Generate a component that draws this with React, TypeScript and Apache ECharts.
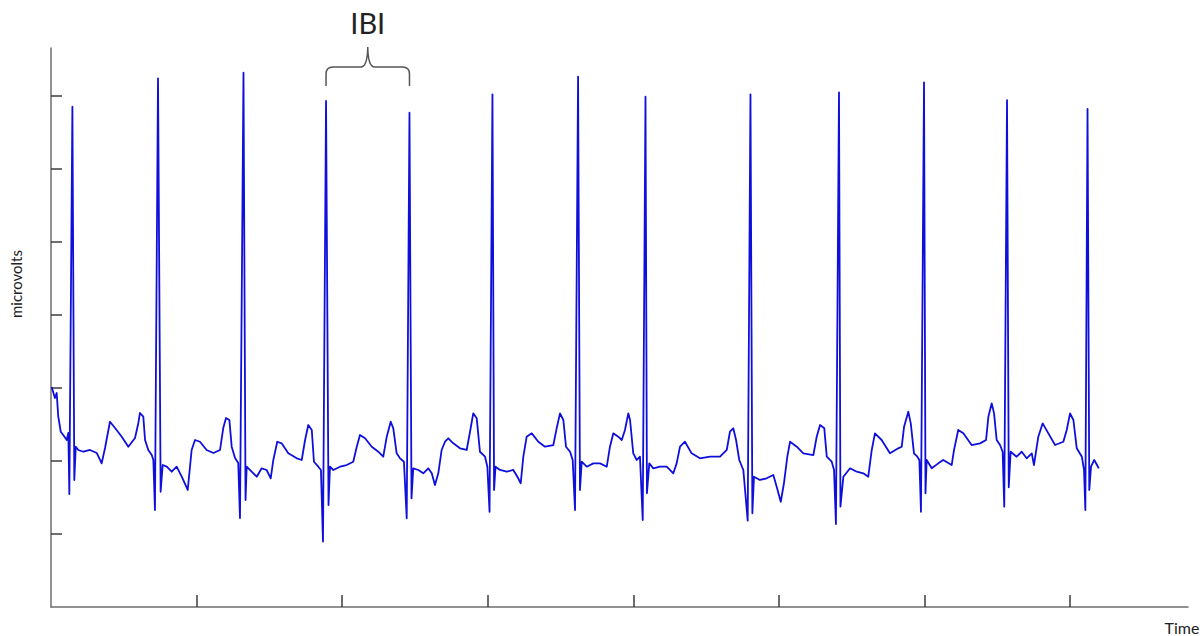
import React, { useEffect, useRef } from "react";
import * as echarts from "echarts";

// Axis extents (time in seconds, amplitude in arbitrary microvolt units)
const xMax = 7.809;
const yMax = 7.658;
const xTickValues = [1, 2, 3, 4, 5, 6, 7];
const yTickValues = [1, 2, 3, 4, 5, 6, 7];

// R peaks bounding the annotated inter-beat interval
const ibiBeatTimes = [1.889, 2.462];
const ibiLabel = "IBI";
const xAxisTitle = "Time";
const yAxisTitle = "microvolts";

// ECG trace, [time, amplitude]
const seg01: [number, number][] = [
  [0.005, 3.014], [0.027, 2.863], [0.039, 2.932], [0.05, 2.607], [0.067, 2.401], [0.084, 2.356], [0.108, 2.288], [0.119, 2.384],
  [0.126, 1.548], [0.147, 6.853], [0.16, 1.74],
  [0.17, 2.196], [0.188, 2.151], [0.222, 2.127], [0.268, 2.151], [0.314, 2.11], [0.348, 1.968], [0.371, 2.178], [0.405, 2.538],
  [0.44, 2.452], [0.486, 2.333], [0.531, 2.196], [0.577, 2.315], [0.6, 2.521], [0.611, 2.658], [0.634, 2.607], [0.646, 2.288],
  [0.668, 2.151], [0.692, 2.082], [0.703, 2.014],
];
const seg02: [number, number][] = [
  [0.714, 1.329], [0.735, 7.242], [0.753, 1.579],
  [0.767, 1.945], [0.795, 1.922], [0.829, 1.853], [0.863, 1.922], [0.898, 1.785], [0.939, 1.603], [0.966, 2.151], [0.989, 2.288],
  [1.023, 2.264], [1.069, 2.151], [1.115, 2.11], [1.161, 2.151], [1.183, 2.452], [1.202, 2.589], [1.225, 2.562], [1.241, 2.196],
  [1.264, 2.041], [1.286, 1.973],
];
const seg03: [number, number][] = [
  [1.298, 1.219], [1.322, 7.319], [1.336, 1.466],
  [1.344, 1.922], [1.378, 1.853], [1.413, 1.785], [1.447, 1.9], [1.481, 1.877], [1.509, 1.763], [1.527, 2.014], [1.554, 2.264],
  [1.584, 2.242], [1.63, 2.105], [1.688, 2.037], [1.722, 2.014], [1.745, 2.288], [1.767, 2.493], [1.791, 2.425], [1.806, 1.99],
  [1.836, 1.922], [1.854, 1.877],
];
const seg04: [number, number][] = [
  [1.868, 0.897], [1.889, 6.932], [1.906, 1.397],
  [1.916, 1.922], [1.939, 1.877], [1.985, 1.922], [2.031, 1.945], [2.076, 1.99], [2.1, 2.196], [2.122, 2.356], [2.157, 2.311],
  [2.203, 2.196], [2.248, 2.127], [2.282, 2.059], [2.306, 2.333], [2.333, 2.538], [2.351, 2.448], [2.374, 2.105], [2.397, 2.037],
  [2.424, 1.99],
];
const seg05: [number, number][] = [
  [2.443, 1.215], [2.462, 6.771], [2.476, 1.489],
  [2.488, 1.9], [2.523, 1.877], [2.557, 1.832], [2.591, 1.9], [2.615, 1.832], [2.637, 1.671], [2.66, 1.832], [2.683, 2.151],
  [2.706, 2.264], [2.729, 2.311], [2.763, 2.242], [2.809, 2.174], [2.855, 2.151], [2.878, 2.401], [2.9, 2.653], [2.924, 2.585],
  [2.946, 2.127], [2.981, 2.059], [2.997, 1.922],
];
const seg06: [number, number][] = [
  [3.012, 1.305], [3.032, 7.023], [3.043, 1.603],
  [3.053, 1.922], [3.084, 1.877], [3.13, 1.853], [3.175, 1.877], [3.209, 1.763], [3.226, 1.695], [3.244, 2.059], [3.267, 2.333],
  [3.302, 2.379], [3.347, 2.264], [3.393, 2.196], [3.45, 2.219], [3.473, 2.448], [3.496, 2.653], [3.519, 2.562], [3.537, 2.196],
  [3.565, 2.127], [3.583, 2.014],
];
const seg07: [number, number][] = [
  [3.599, 1.329], [3.62, 7.264], [3.633, 1.603],
  [3.645, 1.99], [3.679, 1.922], [3.725, 1.968], [3.771, 1.968], [3.817, 1.922], [3.839, 2.196], [3.862, 2.379], [3.896, 2.333],
  [3.92, 2.288], [3.942, 2.425], [3.965, 2.653], [3.977, 2.562], [3.999, 2.105], [4.023, 2.014], [4.045, 2.059],
];
const seg08: [number, number][] = [
  [4.064, 1.192], [4.083, 6.99], [4.093, 1.558],
  [4.109, 1.968], [4.137, 1.9], [4.183, 1.922], [4.229, 1.922], [4.274, 1.832], [4.297, 1.968], [4.32, 2.196], [4.354, 2.264],
  [4.4, 2.105], [4.457, 2.037], [4.526, 2.059], [4.595, 2.059], [4.641, 2.151], [4.663, 2.401], [4.686, 2.448], [4.705, 2.288],
  [4.727, 2.014], [4.755, 1.877],
];
const seg09: [number, number][] = [
  [4.785, 1.182], [4.804, 7.023], [4.817, 1.284],
  [4.828, 1.785], [4.869, 1.74], [4.915, 1.763], [4.961, 1.808], [4.984, 1.648], [5.012, 1.442], [5.034, 1.695], [5.057, 2.059],
  [5.076, 2.264], [5.122, 2.196], [5.167, 2.105], [5.236, 2.082], [5.259, 2.333], [5.282, 2.493], [5.311, 2.448], [5.328, 2.059],
  [5.362, 1.99], [5.378, 1.877],
];
const seg10: [number, number][] = [
  [5.391, 1.137], [5.412, 7.051], [5.422, 1.374],
  [5.442, 1.785], [5.488, 1.9], [5.534, 1.853], [5.579, 1.832], [5.613, 1.785], [5.637, 2.151], [5.659, 2.379], [5.705, 2.288],
  [5.762, 2.105], [5.819, 2.174], [5.843, 2.196], [5.859, 2.47], [5.888, 2.675], [5.905, 2.516], [5.927, 2.105], [5.95, 2.059],
  [5.964, 2.014],
];
const seg11: [number, number][] = [
  [5.975, 1.305], [5.996, 7.188], [6.006, 1.558],
  [6.014, 2.014], [6.049, 1.9], [6.094, 1.968], [6.128, 2.014], [6.186, 1.945], [6.202, 2.151], [6.231, 2.425], [6.266, 2.379],
  [6.323, 2.219], [6.381, 2.242], [6.422, 2.288], [6.438, 2.607], [6.461, 2.79], [6.477, 2.653], [6.495, 2.288], [6.518, 2.219],
  [6.536, 2.127],
];
const seg12: [number, number][] = [
  [6.547, 1.374], [6.566, 6.945], [6.578, 1.64],
  [6.591, 2.127], [6.632, 2.059], [6.667, 2.127], [6.701, 2.037], [6.736, 2.105], [6.751, 1.945], [6.781, 2.333], [6.811, 2.516],
  [6.85, 2.379], [6.896, 2.219], [6.953, 2.264], [6.976, 2.425], [6.999, 2.653], [7.022, 2.562], [7.045, 2.174], [7.08, 2.059],
  [7.095, 1.877],
];
const seg13: [number, number][] = [
  [7.104, 1.329], [7.119, 6.822], [7.131, 1.603],
  [7.143, 1.922], [7.165, 2.014], [7.184, 1.945], [7.196, 1.9],
];

const FONT = "Lato, 'Open Sans', 'Liberation Sans', sans-serif";

export default function App() {
  const ref = useRef<HTMLDivElement>(null);

  useEffect(() => {
    const el = ref.current;
    if (!el) return;
    const chart = echarts.init(el, null, { renderer: "svg" });
    const trace = [
      ...seg01, ...seg02, ...seg03, ...seg04, ...seg05, ...seg06, ...seg07,
      ...seg08, ...seg09, ...seg10, ...seg11, ...seg12, ...seg13,
    ];

    chart.setOption({
      animation: false,
      backgroundColor: "#ffffff",
      grid: { left: 51, right: 16, top: 48, bottom: 29, containLabel: false },
      xAxis: {
        type: "value",
        min: 0,
        max: xMax,
        axisLine: { show: true, onZero: false, lineStyle: { color: "#6e6e6e", width: 1.5 } },
        axisTick: {
          show: true,
          inside: true,
          length: 12,
          customValues: xTickValues,
          lineStyle: { color: "#3c3c3c", width: 1.5 },
        },
        axisLabel: { show: false },
        splitLine: { show: false },
      },
      yAxis: {
        type: "value",
        min: 0,
        max: yMax,
        axisLine: { show: true, onZero: false, lineStyle: { color: "#6e6e6e", width: 1.5 } },
        axisTick: {
          show: true,
          inside: true,
          length: 11,
          customValues: yTickValues,
          lineStyle: { color: "#3c3c3c", width: 1.5 },
        },
        axisLabel: { show: false },
        splitLine: { show: false },
      },
      series: [
        {
          type: "line",
          data: trace,
          showSymbol: false,
          symbol: "none",
          lineStyle: { color: "#0f0fdc", width: 1.8, join: "round" },
          emphasis: { disabled: true },
        },
      ],
    });

    const xa = chart.convertToPixel({ xAxisIndex: 0 }, ibiBeatTimes[0]) as number;
    const xb = chart.convertToPixel({ xAxisIndex: 0 }, ibiBeatTimes[1]) as number;
    const xm = (xa + xb) / 2;
    const yBot = 86;
    const yMid = 67;
    const yTip = 47;
    const d =
      `M${xa},${yBot} L${xa},${yMid + 7} Q${xa},${yMid} ${xa + 7},${yMid} L${xm - 7},${yMid} ` +
      `Q${xm - 0.3},${yMid} ${xm},${yTip} Q${xm + 0.3},${yMid} ${xm + 7},${yMid} L${xb - 7},${yMid} ` +
      `Q${xb},${yMid} ${xb},${yMid + 7} L${xb},${yBot}`;
    echarts.graphic.registerShape("ibiBrace", echarts.graphic.extendPath(d, {}));

    chart.setOption({
      graphic: [
        {
          type: "ibiBrace",
          x: 0,
          y: 0,
          silent: true,
          style: { fill: "none", stroke: "#555555", lineWidth: 1.5 },
        },
        {
          type: "text",
          x: xm,
          y: 22,
          silent: true,
          style: {
            text: ibiLabel,
            fill: "#222222",
            fontSize: 29,
            fontFamily: FONT,
            align: "center",
            verticalAlign: "middle",
          },
        },
        {
          type: "text",
          x: 1182,
          y: 627,
          silent: true,
          style: {
            text: xAxisTitle,
            fill: "#222222",
            fontSize: 16,
            fontFamily: FONT,
            align: "center",
            verticalAlign: "middle",
          },
        },
        {
          type: "text",
          x: 16,
          y: 284,
          rotation: Math.PI / 2,
          silent: true,
          style: {
            text: yAxisTitle,
            fill: "#222222",
            fontSize: 15,
            fontFamily: FONT,
            align: "center",
            verticalAlign: "middle",
          },
        },
      ],
    });

    return () => {
      chart.dispose();
    };
  }, []);

  return (
    <div
      ref={ref}
      style={{ position: "fixed", left: 0, top: 0, width: 1204, height: 636, background: "#ffffff" }}
    />
  );
}
